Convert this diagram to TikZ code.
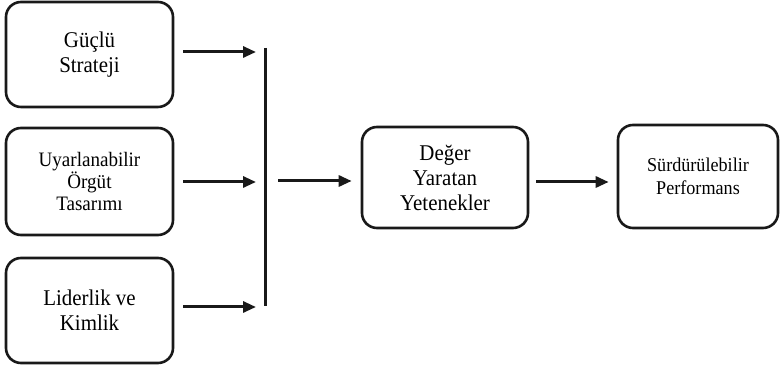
\documentclass[tikz,border=0pt]{standalone}
\usepackage{fontspec}
\setmainfont{Liberation Serif}
\newfontfamily\labelfont[FakeStretch=0.93]{Liberation Serif}
\usetikzlibrary{arrows.meta}
\begin{document}
\begin{tikzpicture}[x=1pt,y=1pt,
  box/.style={draw=black!90, line width=2.6pt, rounded corners=15pt,
    align=center, inner sep=0pt},
  txt/.style={font=\labelfont\fontsize{22.5}{25}\selectfont},
  txtmid/.style={font=\labelfont\fontsize{20.5}{22}\selectfont},
  txtsmall/.style={font=\labelfont\fontsize{19.5}{23}\selectfont},
  link/.style={line width=3pt, draw=black!90,
    -{Triangle[length=13pt,width=11pt]}},
  bar/.style={line width=3pt, draw=black!90}]
\useasboundingbox (0,0) rectangle (780,366);

% input factors
\node[box,txt,minimum width=167,minimum height=105] (b1) at (89.5,311.5) {Güçlü\\Strateji};
\node[box,txtmid,minimum width=167,minimum height=107] (b2) at (89.5,184.5) {Uyarlanabilir\\Örgüt\\Tasarımı};
\node[box,txt,minimum width=167,minimum height=105] (b3) at (89.5,55.5) {Liderlik ve\\Kimlik};

% capabilities and outcome
\node[box,txt,minimum width=166,minimum height=101] (b4) at (445,188.5) {Değer\\Yaratan\\Yetenekler};
\node[box,txtsmall,minimum width=160,minimum height=103] (b5) at (698,189.5) {Sürdürülebilir\\Performans};

% collecting bar
\coordinate (bartop) at (265,318);
\coordinate (barbot) at (265,60);
\draw[bar] (bartop) -- (barbot);

\coordinate (e1) at (256,314);
\coordinate (e2) at (256,184);
\coordinate (e3) at (256,59);
\coordinate (s4) at (278,185);

\draw[link] (b1.east |- e1) ++(9,0) -- (e1);
\draw[link] (b2.east |- e2) ++(9,0) -- (e2);
\draw[link] (b3.east |- e3) ++(9,0) -- (e3);
\draw[link] (s4) -- ([xshift=-9pt]b4.west |- s4);
\draw[link] ([xshift=7pt]b4.east |- 0,184) -- ([xshift=-8pt]b5.west |- 0,184);
\end{tikzpicture}
\end{document}
